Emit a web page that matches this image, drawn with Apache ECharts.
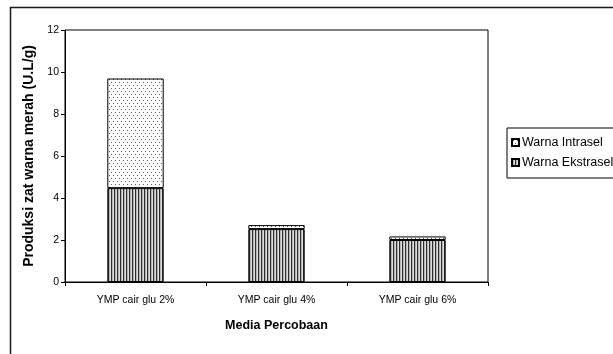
<!DOCTYPE html>
<html>
<head>
<meta charset="utf-8">
<script src="https://cdn.jsdelivr.net/npm/echarts@6/dist/echarts.min.js"></script>
<style>
html,body{margin:0;padding:0;background:#fff;}
#c{width:613px;height:354px;}
</style>
</head>
<body>
<div id="c"></div>
<script>
var categories = ['YMP cair glu 2%', 'YMP cair glu 4%', 'YMP cair glu 6%'];
var ekstrasel = [4.47, 2.52, 2.0];
var intrasel = [5.22, 0.19, 0.17];
var yTicks = [0, 2, 4, 6, 8, 10, 12];

function stripePattern() {
  var c = document.createElement('canvas');
  c.width = 3; c.height = 4;
  var g = c.getContext('2d');
  var cols = ['#2e2e2e', '#b4b4b4', '#dcdcdc'];
  for (var i = 0; i < 3; i++) { g.fillStyle = cols[i]; g.fillRect(i, 0, 1, 4); }
  return c;
}
function dotPattern() {
  var c = document.createElement('canvas');
  c.width = 8; c.height = 6;
  var g = c.getContext('2d');
  g.fillStyle = '#ffffff'; g.fillRect(0, 0, 8, 6);
  g.fillStyle = '#606060';
  [[1,1],[5,1],[3,4],[7,4]].forEach(function(p){ g.fillRect(p[0], p[1], 1, 1); });
  return c;
}

var font = 'Liberation Sans, Arial, sans-serif';
var chart = echarts.init(document.getElementById('c'), null, {renderer: 'canvas'});
chart.setOption({
  animation: false,
  backgroundColor: '#fff',
  graphic: [{
    type: 'rect', left: 8, top: 5, z: 100, silent: true,
    shape: {x: 0, y: 0, width: 640, height: 380},
    style: {fill: 'none', stroke: '#1a1a1a', lineWidth: 1.5}
  }],
  grid: {left: 65, top: 30, right: 125, bottom: 72, show: true, borderColor: '#000', borderWidth: 1, backgroundColor: 'transparent'},
  legend: {
    orient: 'vertical', left: 507, top: 128,
    data: ['Warna Intrasel', 'Warna Ekstrasel'],
    icon: 'rect', itemWidth: 7, itemHeight: 7, itemGap: 7,
    borderColor: '#000', borderWidth: 1, padding: [8, 6, 9, 4],
    textStyle: {fontFamily: font, fontSize: 12.5, color: '#000', padding: [0, 0, 0, -2]}
  },
  xAxis: {
    type: 'category', data: categories,
    name: 'Media Percobaan', nameLocation: 'middle', nameGap: 37,
    nameTextStyle: {fontFamily: font, fontSize: 12.5, fontWeight: 'bold', color: '#000'},
    axisLine: {lineStyle: {color: '#000', width: 1}},
    axisTick: {show: true, length: 4, lineStyle: {color: '#000'}},
    axisLabel: {fontFamily: font, fontSize: 10.5, color: '#000', margin: 13}
  },
  yAxis: {
    type: 'value', min: 0, max: 12, interval: 2,
    name: 'Produksi zat warna merah (U.L/g)', nameLocation: 'middle', nameGap: 25,
    nameTextStyle: {fontFamily: font, fontSize: 14, fontWeight: 'bold', color: '#000'},
    axisLine: {show: true, lineStyle: {color: '#000', width: 1}},
    axisTick: {show: true, length: 4, lineStyle: {color: '#000'}},
    splitLine: {show: false},
    axisLabel: {fontFamily: font, fontSize: 10.5, color: '#000', margin: 6,
      formatter: function(v){ return yTicks.indexOf(v) >= 0 ? String(v) : ''; }}
  },
  series: [{
    name: 'Warna Ekstrasel', type: 'bar', stack: 't', data: ekstrasel,
    barCategoryGap: '60%',
    itemStyle: {color: {image: stripePattern(), repeat: 'repeat'}, borderColor: '#000', borderWidth: 1}
  }, {
    name: 'Warna Intrasel', type: 'bar', stack: 't', data: intrasel,
    barCategoryGap: '60%',
    itemStyle: {color: {image: dotPattern(), repeat: 'repeat'}, borderColor: '#000', borderWidth: 1}
  }]
});
</script>
</body>
</html>
